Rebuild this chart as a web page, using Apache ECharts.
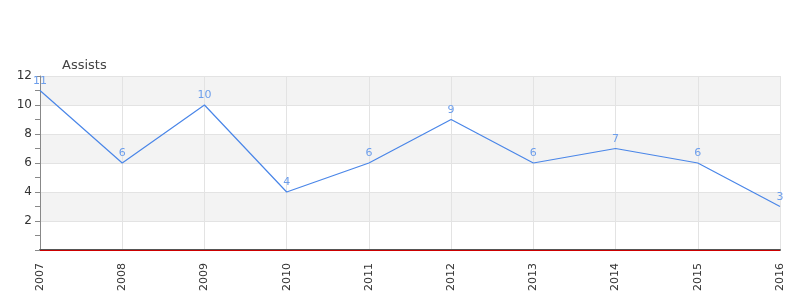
<!DOCTYPE html>
<html><head><meta charset="utf-8">
<script src="https://cdn.jsdelivr.net/npm/echarts@6/dist/echarts.min.js"></script>
<style>html,body{margin:0;padding:0;background:#fff}#c{width:800px;height:300px}</style>
</head><body><div id="c"></div>
<script>
const categories = ['2007','2008','2009','2010','2011','2012','2013','2014','2015','2016'];
const assists = [11,6,10,4,6,9,6,7,6,3];
const seriesName = 'Assists';

const chart = echarts.init(document.getElementById('c'), null, {renderer:'canvas'});
chart.setOption({
  animation:false,
  backgroundColor:'#fff',
  title:{text:seriesName,left:57,top:54,textStyle:{fontSize:13,fontWeight:'normal',color:'#444',fontFamily:'DejaVu Sans'}},
  grid:{left:40,right:20,top:76,bottom:50,containLabel:false},
  xAxis:{type:'category',data:categories,boundaryGap:false,
    axisLine:{show:true,lineStyle:{color:'#555',width:2}},
    axisTick:{show:false},
    axisLabel:{rotate:90,color:'#333',fontSize:11,fontFamily:'DejaVu Sans',margin:13},
    splitLine:{show:true,lineStyle:{color:'#e3e3e3'}}},
  yAxis:{type:'value',min:0,max:12,interval:2,
    axisLine:{show:true,lineStyle:{color:'#888'}},
    axisTick:{show:true,length:5,lineStyle:{color:'#888'}},
    minorTick:{show:true,splitNumber:2,length:5,lineStyle:{color:'#888'}},
    axisLabel:{color:'#333',fontSize:12,fontFamily:'DejaVu Sans',margin:8,formatter:v=>v===0?'':String(v)},
    splitLine:{show:true,lineStyle:{color:'#e3e3e3'}},
    splitArea:{show:true,areaStyle:{color:['#ffffff','#f3f3f3']}}},
  series:[{name:seriesName,type:'line',data:assists,symbol:'circle',symbolSize:2,showSymbol:true,
    itemStyle:{color:'rgba(74,134,232,0)'},
    lineStyle:{color:'#4a86e8',width:1.2},
    label:{show:true,position:'top',color:'#6d9eeb',fontSize:11,fontFamily:'DejaVu Sans',distance:3},
    markLine:{silent:true,symbol:'none',label:{show:false},lineStyle:{color:'#cc0000',width:1,type:'solid'},data:[{yAxis:0}]}
  }]
});
</script></body></html>
